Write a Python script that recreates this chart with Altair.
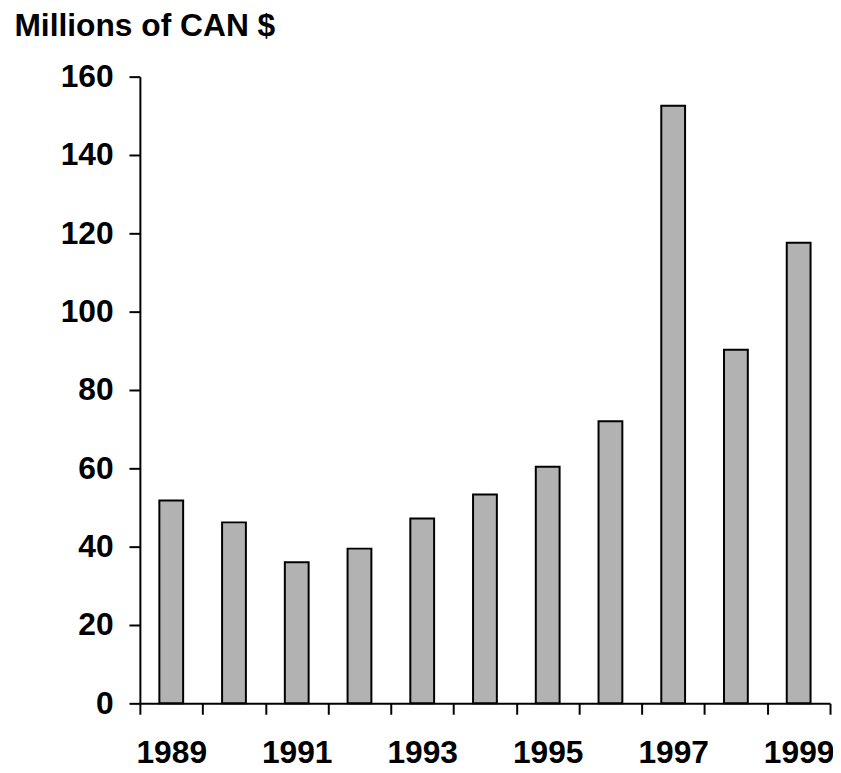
import altair as alt
import pandas as pd

years = [1989, 1990, 1991, 1992, 1993, 1994, 1995, 1996, 1997, 1998, 1999]
values = [51.8, 46.2, 36.0, 39.5, 47.2, 53.3, 60.4, 72.0, 152.6, 90.3, 117.6]
y_ticks = [0, 20, 40, 60, 80, 100, 120, 140, 160]

df = pd.DataFrame({"year": years, "value": values})

FONT = "Liberation Sans"
FS = 32

chart = alt.Chart(df).mark_bar(
    color="#b2b2b2", stroke="black", strokeWidth=2, width=24
).encode(
    x=alt.X(
        "year:O",
        scale=alt.Scale(paddingInner=0, paddingOuter=0),
        axis=alt.Axis(
            title=None,
            tickBand="extent",
            labelExpr="datum.value % 2 == 1 ? datum.label : ''",
            labelAngle=0,
            labelFont=FONT,
            labelFontSize=FS,
            labelFontWeight="bold",
            labelColor="black",
            labelBaseline="alphabetic",
            labelPadding=49,
            tickSize=11,
            tickWidth=2,
            tickColor="black",
            domainColor="black",
            domainWidth=2,
            grid=False,
        ),
    ),
    y=alt.Y(
        "value:Q",
        scale=alt.Scale(domain=[0, 160], nice=False),
        axis=alt.Axis(
            values=y_ticks,
            title="Millions of CAN $",
            titleAngle=0,
            titleX=-127,
            titleY=-41,
            titleAlign="left",
            titleBaseline="alphabetic",
            titleFont=FONT,
            titleFontSize=FS,
            titleFontWeight="bold",
            titleColor="black",
            labelFont=FONT,
            labelFontSize=FS,
            labelFontWeight="bold",
            labelColor="black",
            labelPadding=16,
            tickSize=11,
            tickWidth=2,
            tickColor="black",
            domainColor="black",
            domainWidth=2,
            grid=False,
        ),
    ),
).properties(
    width=696,
    height=632,
    autosize=alt.AutoSizeParams(type="none"),
    padding={"left": 133, "top": 66, "right": 3, "bottom": 64},
).configure(background="white").configure_view(stroke=None)

chart.save("out.html", embed_options={"renderer": "svg", "actions": False})
